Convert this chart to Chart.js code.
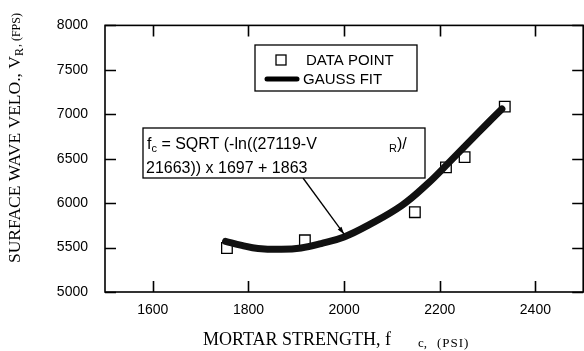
<!DOCTYPE html>
<html>
<head>
<meta charset="utf-8">
<script src="https://cdn.jsdelivr.net/npm/chart.js@4.4.1/dist/chart.umd.min.js"></script>
<style>
  html, body { margin: 0; padding: 0; background: #fff; overflow: hidden; }
  canvas { display: block; }
</style>
</head>
<body>
<canvas id="chart" width="592" height="351"></canvas>
<script>
// axis ticks
const xTicks = [1600, 1800, 2000, 2200, 2400];
const yTicks = [5000, 5500, 6000, 6500, 7000, 7500, 8000];

// measured data points (psi, fps)
const pointX = [1755, 1918, 2148, 2213, 2252, 2336];
const pointY = [5495, 5582, 5898, 6402, 6518, 7086];

// gauss fit curve
const fitX = [1752, 1786, 1820, 1869, 1910, 1952, 2000, 2050, 2121, 2176, 2218, 2259, 2301, 2330];
const fitY = [5570, 5525, 5490, 5480, 5495, 5545, 5620, 5750, 5975, 6225, 6450, 6675, 6905, 7060];

const TICK_FONT = '"Liberation Sans", Arial, sans-serif';
const SERIF = '"Liberation Serif", "Times New Roman", serif';

function drawYTitle(ctx) {
  ctx.save();
  ctx.translate(20, 263);
  ctx.rotate(-Math.PI / 2);
  ctx.fillStyle = "#000";
  ctx.textBaseline = "alphabetic";
  ctx.textAlign = "left";
  ctx.font = `17.5px ${SERIF}`;
  const main = "SURFACE WAVE VELO., V";
  ctx.fillText(main, 0, 0);
  let w = ctx.measureText(main).width;
  ctx.font = `12px ${SERIF}`;
  ctx.fillText("R", w, 3);
  w += ctx.measureText("R").width;
  ctx.fillText(", (FPS)", w + 1, 0);
  ctx.restore();
}

function drawXTitle(ctx) {
  ctx.save();
  ctx.fillStyle = "#000";
  ctx.textBaseline = "alphabetic";
  ctx.textAlign = "left";
  ctx.font = `18px ${SERIF}`;
  ctx.fillText("MORTAR STRENGTH, f", 203, 345);
  ctx.font = `13px ${SERIF}`;
  ctx.fillText("c,", 418, 347);
  ctx.letterSpacing = "1px";
  ctx.fillText("(PSI)", 437, 347);
  ctx.restore();
}

function drawLegend(ctx) {
  ctx.save();
  ctx.fillStyle = "#fff";
  ctx.fillRect(255, 45, 162, 46);
  ctx.strokeStyle = "#000";
  ctx.lineWidth = 1.3;
  ctx.strokeRect(255, 45, 162, 46);
  ctx.strokeRect(276, 55, 10, 10);
  ctx.lineWidth = 5;
  ctx.lineCap = "round";
  ctx.beginPath();
  ctx.moveTo(267, 79);
  ctx.lineTo(297, 79);
  ctx.stroke();
  ctx.fillStyle = "#000";
  ctx.font = `15px ${TICK_FONT}`;
  ctx.textBaseline = "middle";
  ctx.fillText("DATA POINT", 306, 61);
  ctx.fillText("GAUSS FIT", 303, 80);
  ctx.restore();
}

function drawNote(ctx, x, y) {
  ctx.save();
  // arrow from the box to the curve
  const sx = 303, sy = 178;
  const tx = x.getPixelForValue(2000), ty = y.getPixelForValue(5650);
  ctx.strokeStyle = "#000";
  ctx.fillStyle = "#000";
  ctx.lineWidth = 1.3;
  ctx.beginPath();
  ctx.moveTo(sx, sy);
  ctx.lineTo(tx, ty);
  ctx.stroke();
  const ang = Math.atan2(ty - sy, tx - sx);
  ctx.beginPath();
  ctx.moveTo(tx, ty);
  ctx.lineTo(tx - 8 * Math.cos(ang - 0.3), ty - 8 * Math.sin(ang - 0.3));
  ctx.lineTo(tx - 8 * Math.cos(ang + 0.3), ty - 8 * Math.sin(ang + 0.3));
  ctx.closePath();
  ctx.fill();

  ctx.fillStyle = "#fff";
  ctx.fillRect(143, 128, 282, 50);
  ctx.strokeRect(143, 128, 282, 50);

  ctx.fillStyle = "#000";
  ctx.textBaseline = "alphabetic";
  ctx.font = `16px ${TICK_FONT}`;
  ctx.fillText("f", 147, 149);
  let w = 147 + ctx.measureText("f").width;
  ctx.font = `11px ${TICK_FONT}`;
  ctx.fillText("c", w, 152);
  w += ctx.measureText("c").width;
  ctx.font = `16px ${TICK_FONT}`;
  ctx.fillText(" = SQRT (-ln((27119-V", w, 149);
  ctx.font = `11px ${TICK_FONT}`;
  ctx.fillText("R", 389, 152);
  const rw = ctx.measureText("R").width;
  ctx.font = `16px ${TICK_FONT}`;
  ctx.fillText(")/", 389 + rw, 149);
  ctx.fillText("21663)) x 1697 + 1863", 146, 173);
  ctx.restore();
}

const framePlugin = {
  id: "frame",
  afterDraw(chart) {
    const { ctx, chartArea: a, scales: { x, y } } = chart;
    ctx.save();
    ctx.strokeStyle = "#000";
    ctx.lineWidth = 1.6;
    ctx.strokeRect(a.left, a.top, a.right - a.left, a.bottom - a.top);
    ctx.beginPath();
    xTicks.forEach((v) => {
      const px = Math.round(x.getPixelForValue(v)) + 0.5;
      ctx.moveTo(px, a.bottom);
      ctx.lineTo(px, a.bottom - 11);
      ctx.moveTo(px, a.top);
      ctx.lineTo(px, a.top + 11);
    });
    yTicks.forEach((v) => {
      const py = Math.round(y.getPixelForValue(v)) + 0.5;
      ctx.moveTo(a.left, py);
      ctx.lineTo(a.left + 11, py);
      ctx.moveTo(a.right, py);
      ctx.lineTo(a.right - 11, py);
    });
    ctx.stroke();
    ctx.restore();
    drawLegend(ctx);
    drawNote(ctx, x, y);
    drawYTitle(ctx);
    drawXTitle(ctx);
  },
};

new Chart(document.getElementById("chart"), {
  type: "scatter",
  data: {
    datasets: [
      {
        label: "GAUSS FIT",
        type: "line",
        data: fitX.map((v, i) => ({ x: v, y: fitY[i] })),
        borderColor: "#111",
        borderWidth: 7,
        borderCapStyle: "round",
        borderJoinStyle: "round",
        tension: 0.4,
        pointRadius: 0,
        fill: false,
        order: 0,
      },
      {
        label: "DATA POINT",
        data: pointX.map((v, i) => ({ x: v, y: pointY[i] })),
        pointStyle: "rect",
        pointRadius: 7.5,
        borderWidth: 1.3,
        borderColor: "#000",
        backgroundColor: "rgba(0,0,0,0)",
        order: 1,
      },
    ],
  },
  options: {
    responsive: false,
    animation: false,
    devicePixelRatio: 1,
    layout: { padding: { top: 24, right: 4, left: 0, bottom: 0 } },
    plugins: { legend: { display: false }, tooltip: { enabled: false } },
    scales: {
      x: {
        type: "linear",
        min: 1500,
        max: 2500,
        afterBuildTicks: (s) => { s.ticks = xTicks.map((v) => ({ value: v })); },
        afterFit: (s) => { s.height = 59; },
        grid: { display: false, drawTicks: false },
        border: { display: false },
        ticks: {
          padding: 10,
          color: "#000",
          maxRotation: 0,
          font: { family: TICK_FONT, size: 14 },
          callback: (v) => String(v),
        },
      },
      y: {
        type: "linear",
        min: 5000,
        max: 8000,
        afterBuildTicks: (s) => { s.ticks = yTicks.map((v) => ({ value: v })); },
        afterFit: (s) => { s.width = 105; },
        grid: { display: false, drawTicks: false },
        border: { display: false },
        ticks: {
          padding: 17,
          color: "#000",
          font: { family: TICK_FONT, size: 14 },
          callback: (v) => String(v),
        },
      },
    },
  },
  plugins: [framePlugin],
});
</script>
</body>
</html>
